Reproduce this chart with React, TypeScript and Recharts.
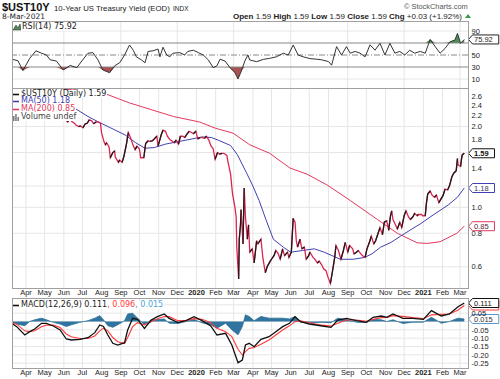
import React from "react";
import { ComposedChart, Line, Area, XAxis, YAxis, CartesianGrid, ReferenceDot, ReferenceLine } from "recharts";

// ---------------- DATA ----------------
const PRICE: [string, number][] = [
  ["2019-03-08", 2.63], ["2019-03-12", 2.61], ["2019-03-15", 2.59], ["2019-03-19", 2.61], ["2019-03-22", 2.44],
  ["2019-03-27", 2.37], ["2019-03-29", 2.41], ["2019-04-02", 2.48], ["2019-04-05", 2.50], ["2019-04-09", 2.50],
  ["2019-04-12", 2.56], ["2019-04-17", 2.59], ["2019-04-22", 2.57], ["2019-04-26", 2.51], ["2019-04-30", 2.51],
  ["2019-05-03", 2.53], ["2019-05-07", 2.45], ["2019-05-10", 2.47], ["2019-05-14", 2.42], ["2019-05-17", 2.39],
  ["2019-05-21", 2.43], ["2019-05-24", 2.32], ["2019-05-29", 2.26], ["2019-05-31", 2.14], ["2019-06-04", 2.12],
  ["2019-06-07", 2.08], ["2019-06-11", 2.14], ["2019-06-14", 2.09], ["2019-06-18", 2.06], ["2019-06-20", 2.03],
  ["2019-06-25", 2.00], ["2019-06-28", 2.01], ["2019-07-02", 1.98], ["2019-07-05", 2.04], ["2019-07-09", 2.06],
  ["2019-07-12", 2.12], ["2019-07-16", 2.10], ["2019-07-19", 2.05], ["2019-07-23", 2.08], ["2019-07-26", 2.08],
  ["2019-07-30", 2.06], ["2019-08-01", 1.89], ["2019-08-05", 1.75], ["2019-08-07", 1.71], ["2019-08-09", 1.74],
  ["2019-08-13", 1.68], ["2019-08-15", 1.53], ["2019-08-19", 1.60], ["2019-08-22", 1.62], ["2019-08-23", 1.54],
  ["2019-08-28", 1.47], ["2019-08-30", 1.50], ["2019-09-03", 1.47], ["2019-09-06", 1.55], ["2019-09-10", 1.72],
  ["2019-09-13", 1.90], ["2019-09-17", 1.81], ["2019-09-20", 1.72], ["2019-09-24", 1.64], ["2019-09-27", 1.69],
  ["2019-10-01", 1.65], ["2019-10-03", 1.53], ["2019-10-08", 1.53], ["2019-10-11", 1.73], ["2019-10-15", 1.77],
  ["2019-10-18", 1.76], ["2019-10-22", 1.77], ["2019-10-25", 1.80], ["2019-10-29", 1.84], ["2019-10-31", 1.69],
  ["2019-11-05", 1.86], ["2019-11-08", 1.94], ["2019-11-12", 1.92], ["2019-11-15", 1.84], ["2019-11-19", 1.79],
  ["2019-11-22", 1.77], ["2019-11-26", 1.74], ["2019-11-29", 1.78], ["2019-12-03", 1.72], ["2019-12-06", 1.84],
  ["2019-12-10", 1.84], ["2019-12-13", 1.82], ["2019-12-17", 1.88], ["2019-12-20", 1.92], ["2019-12-24", 1.90],
  ["2019-12-27", 1.88], ["2019-12-31", 1.92], ["2020-01-03", 1.80], ["2020-01-07", 1.82], ["2020-01-10", 1.82],
  ["2020-01-14", 1.81], ["2020-01-17", 1.84], ["2020-01-21", 1.78], ["2020-01-24", 1.70], ["2020-01-28", 1.65],
  ["2020-01-31", 1.51], ["2020-02-04", 1.60], ["2020-02-07", 1.58], ["2020-02-11", 1.59], ["2020-02-14", 1.59],
  ["2020-02-19", 1.56], ["2020-02-21", 1.47], ["2020-02-25", 1.33], ["2020-02-28", 1.13], ["2020-03-03", 1.00],
  ["2020-03-05", 0.92], ["2020-03-06", 0.71], ["2020-03-09", 0.54], ["2020-03-10", 0.76], ["2020-03-12", 0.86],
  ["2020-03-13", 0.98], ["2020-03-16", 0.73], ["2020-03-18", 1.18], ["2020-03-20", 0.92], ["2020-03-23", 0.76],
  ["2020-03-25", 0.86], ["2020-03-27", 0.68], ["2020-03-31", 0.70], ["2020-04-03", 0.62], ["2020-04-07", 0.75],
  ["2020-04-09", 0.73], ["2020-04-14", 0.76], ["2020-04-17", 0.65], ["2020-04-21", 0.57], ["2020-04-24", 0.60],
  ["2020-04-29", 0.63], ["2020-05-01", 0.64], ["2020-05-05", 0.66], ["2020-05-08", 0.69], ["2020-05-12", 0.67],
  ["2020-05-15", 0.64], ["2020-05-19", 0.70], ["2020-05-22", 0.66], ["2020-05-27", 0.68], ["2020-05-29", 0.65],
  ["2020-06-02", 0.68], ["2020-06-05", 0.91], ["2020-06-08", 0.88], ["2020-06-10", 0.75], ["2020-06-12", 0.71],
  ["2020-06-16", 0.76], ["2020-06-19", 0.70], ["2020-06-23", 0.71], ["2020-06-26", 0.64], ["2020-06-30", 0.66],
  ["2020-07-02", 0.68], ["2020-07-07", 0.65], ["2020-07-10", 0.64], ["2020-07-14", 0.62], ["2020-07-17", 0.63],
  ["2020-07-21", 0.61], ["2020-07-24", 0.59], ["2020-07-28", 0.58], ["2020-07-31", 0.55], ["2020-08-04", 0.52],
  ["2020-08-07", 0.57], ["2020-08-11", 0.65], ["2020-08-13", 0.72], ["2020-08-17", 0.69], ["2020-08-21", 0.64],
  ["2020-08-25", 0.69], ["2020-08-28", 0.74], ["2020-09-01", 0.68], ["2020-09-04", 0.72], ["2020-09-09", 0.70],
  ["2020-09-11", 0.67], ["2020-09-15", 0.68], ["2020-09-18", 0.69], ["2020-09-22", 0.67], ["2020-09-25", 0.66],
  ["2020-09-29", 0.65], ["2020-10-02", 0.70], ["2020-10-06", 0.74], ["2020-10-09", 0.78], ["2020-10-13", 0.73],
  ["2020-10-16", 0.75], ["2020-10-20", 0.80], ["2020-10-23", 0.84], ["2020-10-27", 0.79], ["2020-10-30", 0.88],
  ["2020-11-03", 0.89], ["2020-11-06", 0.82], ["2020-11-09", 0.93], ["2020-11-11", 0.97], ["2020-11-13", 0.90],
  ["2020-11-17", 0.86], ["2020-11-20", 0.83], ["2020-11-24", 0.88], ["2020-11-27", 0.84], ["2020-12-01", 0.93],
  ["2020-12-04", 0.97], ["2020-12-08", 0.92], ["2020-12-11", 0.90], ["2020-12-15", 0.92], ["2020-12-18", 0.95],
  ["2020-12-22", 0.93], ["2020-12-24", 0.94], ["2020-12-29", 0.94], ["2020-12-31", 0.93], ["2021-01-04", 0.93],
  ["2021-01-06", 1.04], ["2021-01-08", 1.12], ["2021-01-12", 1.15], ["2021-01-15", 1.11], ["2021-01-19", 1.09],
  ["2021-01-22", 1.11], ["2021-01-26", 1.04], ["2021-01-29", 1.07], ["2021-02-02", 1.11], ["2021-02-05", 1.17],
  ["2021-02-09", 1.16], ["2021-02-12", 1.20], ["2021-02-16", 1.30], ["2021-02-19", 1.34], ["2021-02-23", 1.37],
  ["2021-02-25", 1.52], ["2021-02-26", 1.44], ["2021-03-02", 1.42], ["2021-03-04", 1.54], ["2021-03-05", 1.57],
  ["2021-03-08", 1.59],
];

const MA50: [string, number][] = [
  ["2019-03-08", 2.68], ["2019-04-10", 2.58], ["2019-05-10", 2.52], ["2019-05-28", 2.48], ["2019-06-20", 2.33],
  ["2019-07-10", 2.18], ["2019-07-27", 2.08], ["2019-08-15", 1.98], ["2019-09-08", 1.86], ["2019-09-25", 1.74],
  ["2019-10-10", 1.66], ["2019-10-25", 1.67], ["2019-11-12", 1.72], ["2019-12-15", 1.78], ["2020-01-10", 1.83],
  ["2020-01-25", 1.82], ["2020-02-05", 1.78], ["2020-02-25", 1.70], ["2020-03-07", 1.57], ["2020-03-22", 1.34],
  ["2020-04-01", 1.20], ["2020-04-11", 1.06], ["2020-04-22", 0.90], ["2020-05-04", 0.76], ["2020-05-20", 0.71],
  ["2020-06-01", 0.68], ["2020-06-20", 0.69], ["2020-07-09", 0.70], ["2020-07-25", 0.68], ["2020-08-20", 0.64],
  ["2020-09-10", 0.64], ["2020-09-28", 0.65], ["2020-10-10", 0.67], ["2020-10-24", 0.71], ["2020-11-10", 0.74],
  ["2020-11-25", 0.78], ["2020-12-10", 0.82], ["2020-12-28", 0.87], ["2021-01-15", 0.93], ["2021-02-10", 1.02],
  ["2021-02-25", 1.09], ["2021-03-08", 1.18],
];

const MA200: [string, number][] = [
  ["2019-03-08", 2.87], ["2019-05-01", 2.82], ["2019-06-15", 2.74], ["2019-07-15", 2.70], ["2019-08-09", 2.64],
  ["2019-09-15", 2.45], ["2019-10-18", 2.32], ["2019-11-25", 2.18], ["2020-01-06", 2.08], ["2020-02-01", 1.97],
  ["2020-02-29", 1.89], ["2020-03-27", 1.71], ["2020-04-28", 1.59], ["2020-05-31", 1.40], ["2020-06-27", 1.33],
  ["2020-07-30", 1.21], ["2020-09-05", 1.06], ["2020-10-19", 0.90], ["2020-11-20", 0.80], ["2020-12-22", 0.737],
  ["2021-01-07", 0.733], ["2021-01-28", 0.744], ["2021-02-24", 0.80], ["2021-03-08", 0.85],
];

const RSI: [string, number][] = [
  ["2019-03-10", 42.8], ["2019-03-19", 40.5], ["2019-03-27", 24], ["2019-04-07", 44.5], ["2019-04-17", 57],
  ["2019-04-26", 53], ["2019-05-04", 50], ["2019-05-10", 42], ["2019-05-20", 40], ["2019-05-31", 25],
  ["2019-06-11", 32.5], ["2019-06-22", 29], ["2019-06-30", 40], ["2019-07-10", 53], ["2019-07-18", 54],
  ["2019-07-26", 42], ["2019-08-03", 25], ["2019-08-14", 20.5], ["2019-08-22", 32], ["2019-08-30", 37],
  ["2019-09-07", 50], ["2019-09-15", 66.7], ["2019-09-21", 58], ["2019-09-26", 47], ["2019-10-04", 42],
  ["2019-10-10", 37], ["2019-10-15", 56], ["2019-10-23", 57], ["2019-10-31", 60], ["2019-11-03", 47],
  ["2019-11-08", 63], ["2019-11-14", 50], ["2019-11-19", 47], ["2019-11-24", 53], ["2019-12-05", 54],
  ["2019-12-13", 50], ["2019-12-18", 56], ["2019-12-27", 58], ["2020-01-04", 54], ["2020-01-12", 50],
  ["2020-01-20", 42], ["2020-01-28", 29], ["2020-02-03", 32], ["2020-02-08", 43], ["2020-02-16", 40],
  ["2020-02-24", 29], ["2020-03-03", 20.6], ["2020-03-08", 10], ["2020-03-14", 25], ["2020-03-19", 40],
  ["2020-03-24", 50], ["2020-03-27", 41.7], ["2020-04-07", 38.9], ["2020-04-18", 42.8], ["2020-04-28", 44.4],
  ["2020-05-09", 47], ["2020-05-20", 53], ["2020-05-28", 50], ["2020-06-05", 66.7], ["2020-06-13", 50],
  ["2020-06-21", 47], ["2020-07-02", 44], ["2020-07-13", 43], ["2020-07-21", 42], ["2020-08-01", 39],
  ["2020-08-06", 33], ["2020-08-14", 64], ["2020-08-22", 50], ["2020-08-30", 64], ["2020-09-05", 53],
  ["2020-09-13", 56], ["2020-09-21", 53], ["2020-09-29", 47], ["2020-10-07", 67], ["2020-10-15", 58],
  ["2020-10-23", 69.5], ["2020-10-31", 50], ["2020-11-08", 69.5], ["2020-11-16", 53], ["2020-11-24", 56],
  ["2020-12-02", 50], ["2020-12-10", 58], ["2020-12-18", 53], ["2020-12-27", 56], ["2021-01-04", 53],
  ["2021-01-12", 76], ["2021-01-20", 64], ["2021-01-28", 53], ["2021-02-05", 61], ["2021-02-13", 72],
  ["2021-02-21", 75], ["2021-02-25", 86], ["2021-03-02", 69.5], ["2021-03-08", 75.92],
];

const MACD_DATES: string[] = [
  "2019-03-09", "2019-03-17", "2019-03-30", "2019-04-07", "2019-04-15", "2019-04-26", "2019-05-04", "2019-05-15",
  "2019-05-26", "2019-06-05", "2019-06-13", "2019-06-27", "2019-07-10", "2019-07-21", "2019-07-29", "2019-08-04",
  "2019-08-11", "2019-08-19", "2019-08-27", "2019-09-07", "2019-09-12", "2019-09-20", "2019-09-28", "2019-10-09",
  "2019-10-20", "2019-10-30", "2019-11-10", "2019-11-18", "2019-12-02", "2019-12-15", "2019-12-28", "2020-01-10",
  "2020-01-24", "2020-02-03", "2020-02-17", "2020-02-27", "2020-03-08", "2020-03-15", "2020-03-20", "2020-03-26",
  "2020-04-03", "2020-04-14", "2020-04-27", "2020-05-08", "2020-05-19", "2020-05-30", "2020-06-08", "2020-06-17",
  "2020-07-01", "2020-07-22", "2020-08-05", "2020-08-16", "2020-08-30", "2020-09-15", "2020-10-01", "2020-10-12",
  "2020-10-25", "2020-11-03", "2020-11-13", "2020-11-29", "2020-12-15", "2021-01-01", "2021-01-14", "2021-01-30",
  "2021-02-12", "2021-02-26", "2021-03-08",
];
const MACD_VALS: number[] = [
  -0.011, -0.031, -0.081, -0.061, -0.045, -0.011, -0.011, -0.027,
  -0.051, -0.105, -0.111, -0.107, -0.097, -0.067, -0.021, -0.030,
  -0.081, -0.131, -0.141, -0.127, -0.051, 0.019, 0.013, -0.041,
  0.009, 0.029, 0.045, 0.019, -0.007, 0.005, 0.029, 0.005,
  -0.027, -0.081, -0.071, -0.141, -0.247, -0.231, -0.141, -0.131,
  -0.151, -0.107, -0.091, -0.061, -0.031, -0.011, 0.029, -0.001,
  -0.015, -0.027, -0.035, 0.009, 0.019, 0.005, -0.005, 0.025,
  0.033, 0.025, 0.045, 0.019, 0.019, 0.013, 0.065, 0.033,
  0.045, 0.089, 0.111,
];
const SIGNAL_VALS: number[] = [
  -0.006, -0.016, -0.056, -0.061, -0.055, -0.031, -0.021, -0.022,
  -0.036, -0.075, -0.091, -0.102, -0.102, -0.087, -0.056, -0.040,
  -0.056, -0.096, -0.121, -0.132, -0.096, -0.031, -0.007, -0.021,
  -0.001, 0.017, 0.030, 0.029, 0.005, 0.005, 0.017, 0.013,
  -0.007, -0.041, -0.061, -0.091, -0.167, -0.201, -0.181, -0.161,
  -0.156, -0.137, -0.111, -0.081, -0.051, -0.026, -0.001, 0.004,
  -0.007, -0.022, -0.028, -0.011, 0.009, 0.009, 0.001, 0.013,
  0.023, 0.025, 0.035, 0.031, 0.023, 0.017, 0.040, 0.043,
  0.045, 0.069, 0.096,
];

const MONTH_DATES: string[] = [
  "2019-04-01", "2019-05-01", "2019-06-01", "2019-07-01", "2019-08-01", "2019-09-01", "2019-10-01", "2019-11-01",
  "2019-12-01", "2020-01-01", "2020-02-01", "2020-03-01", "2020-04-01", "2020-05-01", "2020-06-01", "2020-07-01",
  "2020-08-01", "2020-09-01", "2020-10-01", "2020-11-01", "2020-12-01", "2021-01-01", "2021-02-01", "2021-03-01",
];
const MONTH_LABELS: string[] = [
  "Apr", "May", "Jun", "Jul", "Aug", "Sep", "Oct", "Nov", "Dec", "2020", "Feb", "Mar",
  "Apr", "May", "Jun", "Jul", "Aug", "Sep", "Oct", "Nov", "Dec", "2021", "Feb", "Mar",
];

const PRICE_TICKS = [0.6, 0.8, 1.0, 1.4, 1.8, 2.0, 2.2, 2.4, 2.6];
const PRICE_GRID = [0.6, 0.8, 1.0, 1.2, 1.6, 2.0];
const RSI_TICKS = [10, 30, 50, 90];
const RSI_GRID = [10, 90];
const MACD_TICKS = [0.05, -0.05, -0.1, -0.15, -0.2, -0.25];
const MACD_GRID = [0.1, 0.05, 0, -0.05, -0.1, -0.15, -0.2, -0.25];

// ---------------- HELPERS ----------------
const toT = (s: string) => {
  const [y, m, d] = s.split("-").map(Number);
  return Date.UTC(y, m - 1, d) / 86400000;
};
const T_MIN = toT("2019-03-09") + 0.4;
const T_MAX = toT("2021-03-14");
const MONTH_TS = MONTH_DATES.map(toT);

const AX = "'Liberation Sans', Arial, sans-serif";
const LG = "'DejaVu Sans', Verdana, sans-serif";

const RED = "#dc2450";
const BLUE = "#4040b0";
const MA200C = "#e4385c";

// price rows with up-run series (black) over red base
const priceRows: any[] = PRICE.map(([d, v]) => ({ t: toT(d), v, a: null as number | null, b: null as number | null }));
{
  let run = -1;
  let inRun = false;
  for (let i = 0; i < priceRows.length - 1; i++) {
    if (priceRows[i + 1].v > priceRows[i].v) {
      if (!inRun) { run++; inRun = true; }
      const k = run % 2 === 0 ? "a" : "b";
      priceRows[i][k] = priceRows[i].v;
      priceRows[i + 1][k] = priceRows[i + 1].v;
    } else inRun = false;
  }
}
const ma50Rows = MA50.map(([d, v]) => ({ t: toT(d), v }));
const ma200Rows = MA200.map(([d, v]) => ({ t: toT(d), v }));
const rsiRows = RSI.map(([d, v]) => ({ t: toT(d), v, hi: [70, Math.max(v, 70)], lo: [Math.min(v, 30), 30] }));
const macdRows = MACD_DATES.map((d, i) => ({ t: toT(d), m: MACD_VALS[i], s: SIGNAL_VALS[i], h: MACD_VALS[i] - SIGNAL_VALS[i] }));

const MonthTick = (props: any) => {
  const { x, y, payload } = props;
  const i = MONTH_TS.indexOf(payload.value);
  const label = MONTH_LABELS[i] ?? "";
  const bold = /^\d{4}$/.test(label);
  return (
    <text x={x} y={y + 7} textAnchor="middle" fontSize={7.5} fontFamily={AX} fontWeight={bold ? 700 : 400} fill="#222">
      {label}
    </text>
  );
};

const makeYTick = (fmt: (v: number) => string) => (props: any) => {
  const { y, payload } = props;
  return (
    <text x={471.5} y={y + 2.7} textAnchor="start" fontSize={7.5} fontFamily={AX} fill="#222">
      {fmt(payload.value)}
    </text>
  );
};

const Tag = (p: any) => {
  const { cx, cy, label, stroke, color, bold, dy = 0 } = p;
  if (cx == null || cy == null) return null;
  const w = label.length * 4.25 + 5;
  const x0 = 468.5;
  const yc = cy + dy;
  const h = 4.5;
  return (
    <g>
      <polygon
        points={`${x0},${yc} ${x0 + 4},${yc - h} ${x0 + 4 + w},${yc - h} ${x0 + 4 + w},${yc + h} ${x0 + 4},${yc + h}`}
        fill="#fff"
        stroke={stroke}
        strokeWidth={1}
      />
      <text x={x0 + 5.5} y={yc + 2.7} fontSize={7.5} fontFamily={AX} fontWeight={bold ? 700 : 400} fill={color}>
        {label}
      </text>
    </g>
  );
};

const M = { top: 0, right: 0, bottom: 0, left: 12 };
const frame = (top: number, height: number): React.CSSProperties => ({
  position: "absolute", left: 12, top, width: 457, height: height + 1, boxSizing: "border-box",
  border: "1px solid #a0a0a0", pointerEvents: "none",
});

const Dash = ({ color }: { color: string }) => (
  <svg width={7} height={8} style={{ display: "inline-block", verticalAlign: "top", marginRight: 1 }}>
    <line x1={0} y1={4.5} x2={6} y2={4.5} stroke={color} strokeWidth={1.6} />
  </svg>
);

const legendRow = (top: number): React.CSSProperties => ({
  position: "absolute", left: 13, top, background: "#fff", fontFamily: LG, fontSize: 8,
  lineHeight: "8px", height: 8, whiteSpace: "nowrap", paddingRight: 1,
});

export default function App() {
  return (
    <div style={{ position: "absolute", left: 0, top: 0, width: 500, height: 379, background: "#fff", overflow: "hidden" }}>
      {/* RSI panel */}
      <div style={{ position: "absolute", left: 0, top: 21 }}>
        <ComposedChart width={500} height={67} data={rsiRows} margin={M}>
          <CartesianGrid horizontalValues={RSI_GRID} verticalValues={MONTH_TS} stroke="#e6e6e6" />
          <XAxis type="number" dataKey="t" domain={[T_MIN, T_MAX]} allowDataOverflow hide />
          <YAxis orientation="right" width={32} domain={[-5, 106.7]} allowDataOverflow ticks={RSI_TICKS} interval={0}
            tick={makeYTick((v) => String(v))} axisLine={false} tickLine={false} tickSize={0} tickMargin={0} />
          <ReferenceLine y={70} stroke="#888" strokeWidth={1} />
          <ReferenceLine y={30} stroke="#888" strokeWidth={1} />
          <ReferenceLine y={50} stroke="#888" strokeWidth={1} strokeDasharray="6 2 1 2" />
          <Area dataKey="hi" type="linear" stroke="none" fill="#4f8f56" fillOpacity={1} isAnimationActive={false} />
          <Area dataKey="lo" type="linear" stroke="none" fill="#a85252" fillOpacity={1} isAnimationActive={false} />
          <Line dataKey="v" type="linear" stroke="#333" strokeWidth={1} dot={false} activeDot={false} isAnimationActive={false} />
          <ReferenceDot x={T_MAX} y={75.92} r={0} ifOverflow="visible"
            shape={(p: any) => <Tag {...p} label="75.92" stroke="#222" color="#222" />} />
        </ComposedChart>
      </div>

      {/* Price panel */}
      <div style={{ position: "absolute", left: 0, top: 88 }}>
        <ComposedChart width={500} height={210} data={priceRows} margin={M}>
          <CartesianGrid horizontalValues={PRICE_GRID} verticalValues={MONTH_TS} stroke="#e6e6e6" />
          <XAxis type="number" dataKey="t" domain={[T_MIN, T_MAX]} allowDataOverflow ticks={MONTH_TS} interval={0}
            tick={<MonthTick />} height={10} axisLine={false} tickLine={false} tickSize={0} tickMargin={0} />
          <YAxis orientation="right" width={32} scale="log" domain={[0.5, 2.785]} allowDataOverflow ticks={PRICE_TICKS}
            interval={0} tick={makeYTick((v) => v.toFixed(1))} axisLine={false} tickLine={false} tickSize={0} tickMargin={0} />
          <Line data={ma200Rows} dataKey="v" type="linear" stroke={MA200C} strokeWidth={1} dot={false} activeDot={false} isAnimationActive={false} />
          <Line data={ma50Rows} dataKey="v" type="linear" stroke={BLUE} strokeWidth={1} dot={false} activeDot={false} isAnimationActive={false} />
          <Line dataKey="v" type="linear" stroke={RED} strokeWidth={1.3} dot={false} activeDot={false} isAnimationActive={false} />
          <Line dataKey="a" type="linear" stroke="#1a1a1a" strokeWidth={1.3} dot={false} activeDot={false} connectNulls={false} isAnimationActive={false} />
          <Line dataKey="b" type="linear" stroke="#1a1a1a" strokeWidth={1.3} dot={false} activeDot={false} connectNulls={false} isAnimationActive={false} />
          <ReferenceDot x={T_MAX} y={1.59} r={0} ifOverflow="visible"
            shape={(p: any) => <Tag {...p} label="1.59" stroke="#111" color="#111" bold />} />
          <ReferenceDot x={T_MAX} y={1.18} r={0} ifOverflow="visible"
            shape={(p: any) => <Tag {...p} label="1.18" stroke={BLUE} color="#333366" />} />
          <ReferenceDot x={T_MAX} y={0.85} r={0} ifOverflow="visible"
            shape={(p: any) => <Tag {...p} label="0.85" stroke={MA200C} color="#552233" />} />
        </ComposedChart>
      </div>

      {/* MACD panel */}
      <div style={{ position: "absolute", left: 0, top: 298 }}>
        <ComposedChart width={500} height={81} data={macdRows} margin={M}>
          <CartesianGrid horizontalValues={MACD_GRID} verticalValues={MONTH_TS} stroke="#e6e6e6" />
          <XAxis type="number" dataKey="t" domain={[T_MIN, T_MAX]} allowDataOverflow ticks={MONTH_TS} interval={0}
            tick={<MonthTick />} height={11} axisLine={false} tickLine={false} tickSize={0} tickMargin={0} />
          <YAxis orientation="right" width={32} domain={[-0.279, 0.141]} allowDataOverflow ticks={MACD_TICKS} interval={0}
            tick={makeYTick((v) => v.toFixed(2))} axisLine={false} tickLine={false} tickSize={0} tickMargin={0} />
          <Area dataKey="h" type="linear" baseValue={0} stroke="#2a6d94" strokeWidth={0.8} fill="#2f75a0" fillOpacity={1} isAnimationActive={false} />
          <Line dataKey="s" type="linear" stroke="#ff3b3b" strokeWidth={1.1} dot={false} activeDot={false} isAnimationActive={false} />
          <Line dataKey="m" type="linear" stroke="#111" strokeWidth={1.3} dot={false} activeDot={false} isAnimationActive={false} />
          <ReferenceDot x={T_MAX} y={0.015} r={0} ifOverflow="visible"
            shape={(p: any) => <Tag {...p} label="0.015" stroke="#5a9ad0" color="#333" />} />
          <ReferenceDot x={T_MAX} y={0.096} r={0} ifOverflow="visible"
            shape={(p: any) => <Tag {...p} label="0.096" stroke="#ff3b3b" color="#333" />} />
          <ReferenceDot x={T_MAX} y={0.111} r={0} ifOverflow="visible"
            shape={(p: any) => <Tag {...p} label="0.111" stroke="#111" color="#111" />} />
        </ComposedChart>
      </div>

      {/* frames */}
      <div style={frame(21, 67)} />
      <div style={frame(88, 200)} />
      <div style={frame(298, 70)} />

      {/* legends */}
      <div style={legendRow(22.5)}>
        <svg width={8} height={8} style={{ display: "inline-block", verticalAlign: "top", marginRight: 1 }}>
          <polygon points="0,7 3,2 5,5 7,1 8,7" fill="#4f8f56" stroke="#333" strokeWidth={0.6} />
        </svg>
        <span style={{ color: "#222" }}>RSI(14) 75.92</span>
      </div>
      <div style={legendRow(89.5)}><Dash color="#111" /><span style={{ color: "#222" }}>$UST10Y (Daily) 1.59</span></div>
      <div style={legendRow(97.3)}><Dash color={BLUE} /><span style={{ color: BLUE }}>MA(50) 1.18</span></div>
      <div style={legendRow(105.1)}><Dash color={MA200C} /><span style={{ color: MA200C }}>MA(200) 0.85</span></div>
      <div style={legendRow(112.9)}>
        <svg width={7} height={8} style={{ display: "inline-block", verticalAlign: "top", marginRight: 1 }}>
          <rect x={0} y={3} width={1.5} height={5} fill="#777" />
          <rect x={2.2} y={1} width={1.5} height={7} fill="#777" />
          <rect x={4.4} y={4} width={1.5} height={4} fill="#777" />
        </svg>
        <span style={{ color: "#444" }}>Volume undef</span>
      </div>
      <div style={legendRow(300.5)}>
        <Dash color="#111" />
        <span style={{ color: "#222" }}>MACD(12,26,9) 0.111</span>
        <span style={{ color: "#ff3b3b" }}>, 0.096</span>
        <span style={{ color: "#4aa3df" }}>, 0.015</span>
      </div>

      {/* header */}
      <svg width={500} height={21} style={{ position: "absolute", left: 0, top: 0 }}>
        <text x={2} y={11} fontFamily={AX} fontSize={11} fontWeight={700} fill="#111">$UST10Y</text>
        <text x={54} y={10.5} fontFamily={AX} fontSize={7.8} fill="#222">10-Year US Treasury Yield (EOD)</text>
        <text x={173} y={10.5} fontFamily={AX} fontSize={6.5} fill="#222">INDX</text>
        <text x={2} y={18.5} fontFamily={LG} fontSize={7.5} fill="#222">8-Mar-2021</text>
        <text x={404} y={8.5} fontFamily={AX} fontSize={7.4} fill="#555">© StockCharts.com</text>
        <text x={462} y={18.5} textAnchor="end" fontFamily={AX} fontSize={8} fill="#222">
          <tspan fontWeight={700}>Open</tspan> 1.59 <tspan fontWeight={700}>High</tspan> 1.59 <tspan fontWeight={700}>Low</tspan> 1.59{" "}
          <tspan fontWeight={700}>Close</tspan> 1.59 <tspan fontWeight={700}>Chg</tspan> +0.03 (+1.92%)
        </text>
        <polygon points="465,18 468,14 471,18" fill="#3a9a4a" />
      </svg>
    </div>
  );
}
